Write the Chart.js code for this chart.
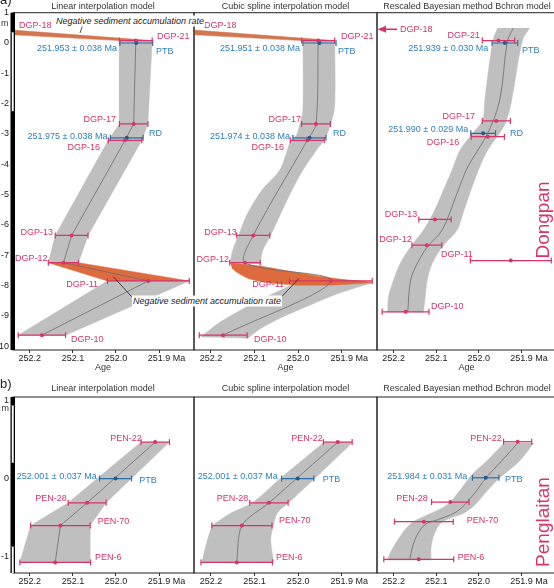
<!DOCTYPE html>
<html>
<head>
<meta charset="utf-8">
<title>Age-depth models, Dongpan and Penglaitan</title>
<script src="https://cdn.jsdelivr.net/npm/chart.js@4.4.1/dist/chart.umd.min.js"></script>
<style>
  html, body { margin: 0; padding: 0; background: #fff; overflow: hidden; }
  body { position: relative; width: 554px; height: 588px; font-family: "Liberation Sans", Arial, sans-serif; }
  canvas { position: absolute; left: 0; top: 0; }
  #overlay { position: absolute; left: 0; top: 0; }
  .t { position: absolute; white-space: nowrap; font-size: 9px; line-height: 11px; }
</style>
</head>
<body>
<canvas id="aLinear" width="562" height="588"></canvas>
<canvas id="aSpline" width="562" height="588"></canvas>
<canvas id="aBchron" width="562" height="588"></canvas>
<canvas id="bLinear" width="562" height="588"></canvas>
<canvas id="bSpline" width="562" height="588"></canvas>
<canvas id="bBchron" width="562" height="588"></canvas>
<svg id="overlay" width="554" height="588">
  <g stroke="#222" stroke-width="0.8">
    <line x1="83" y1="24" x2="80" y2="33"/>
    <line x1="131.7" y1="296.7" x2="113.3" y2="276.7"/>
    <line x1="281.7" y1="296.7" x2="299" y2="278.3"/>
  </g>
  <line x1="384" y1="29.3" x2="397" y2="29.3" stroke="#d8336b" stroke-width="1.6"/>
  <polygon points="377.5,29.3 386,25.8 386,32.8" fill="#d8336b"/>
</svg>
<script>
Chart.defaults.font.family = '"Liberation Sans", Arial, sans-serif';
Chart.defaults.font.size = 9;
Chart.defaults.color = '#222';

// ---------- data (age in Ma, depth in m) ----------
const ageTicks = [252.2, 252.1, 252.0, 251.9];
const depthTicksA = [1, 0, -1, -2, -3, -4, -5, -6, -7, -8, -9, -10];
const depthTicksB = [1, 0, -1];

// Dongpan ash beds
const dgpNames = ['DGP-21', 'DGP-17', 'DGP-16', 'DGP-13', 'DGP-12', 'DGP-11', 'DGP-10'];
const dgpAge = [251.954, 251.959, 251.979, 252.103, 252.122, 251.925, 252.172];
const dgpErr = [0.038, 0.033, 0.039, 0.038, 0.035, 0.095, 0.055];
const dgpDepth = [0.08, -2.67, -3.21, -6.35, -7.25, -7.85, -9.64];
const dgpDepthBchron = [0.08, -2.57, -3.09, -5.82, -6.67, -7.18, -8.87];
// DGP-18 plots off the left edge
const dgp18Age = 252.38, dgp18Err = 0.11, dgp18Depth = 0.46;

// PTB and RD model ages
const eventNames = ['PTB', 'RD'];
const eventAgeLinear = [251.953, 251.975];
const eventAgeSpline = [251.951, 251.974];
const eventAgeBchron = [251.939, 251.990];
const eventErrLinear = [0.038, 0.038];
const eventErrSpline = [0.038, 0.038];
const eventErrBchron = [0.030, 0.029];
const eventDepth = [0, -3.13];
const eventDepthBchron = [0, -2.98];

// cubic spline envelope, Dongpan
const dgpSplineUpperLeft = [[251.989, 0.066], [251.989, -2.21], [251.996, -2.67], [252.004, -3.04], [252.017, -3.23],
  [252.042, -4.19], [252.083, -4.85], [252.118, -5.68], [252.138, -6.40], [252.150, -6.83], [252.156, -7.23]];
const dgpSplineUpperRight = [[252.088, -7.29], [252.081, -6.83], [252.065, -6.40], [252.031, -5.35], [251.996, -4.36],
  [251.955, -3.47], [251.941, -3.23], [251.925, -2.67], [251.916, -2.05], [251.916, 0.066]];
const dgpSplineLowerLeft = [[252.003, -7.92], [252.031, -8.09], [252.111, -8.65], [252.179, -9.21], [252.223, -9.70]];
const dgpSplineLowerRight = [[252.115, -9.74], [252.088, -9.44], [252.042, -9.08], [251.973, -8.65], [251.905, -8.25], [251.831, -7.92]];
const dgpSplineReversal = [[252.155, -7.26], [252.088, -7.36], [251.996, -7.59], [251.905, -7.79], [251.831, -7.89],
  [251.831, -7.91], [251.927, -7.99], [252.003, -7.99], [252.065, -7.92], [252.111, -7.79], [252.138, -7.59], [252.152, -7.43]];

// Bchron envelope and median, Dongpan
const dgpBchronLeft = [[251.956, 0.495], [251.967, 0.076], [251.986, -1.88], [251.991, -2.54], [252.014, -2.97],
  [252.044, -3.53], [252.060, -4.09], [252.086, -4.95], [252.107, -5.61], [252.130, -6.17], [252.160, -6.73],
  [252.184, -7.26], [252.200, -7.82], [252.212, -8.38], [252.214, -8.88]];
const dgpBchronRight = [[252.130, -8.88], [252.126, -8.38], [252.121, -7.82], [252.109, -7.26], [252.086, -6.73],
  [252.051, -6.17], [252.037, -5.61], [252.021, -4.95], [251.998, -4.09], [251.979, -3.53], [251.951, -2.97],
  [251.935, -2.54], [251.923, -1.88], [251.898, 0.076], [251.881, 0.495]];
const dgpBchronMedian = [[251.919, 0.495], [251.933, 0.066], [251.951, -1.88], [251.979, -2.97], [252.026, -4.09],
  [252.051, -4.95], [252.086, -6.17], [252.121, -6.73], [252.144, -7.26], [252.160, -7.82], [252.167, -8.88]];

// Penglaitan ash beds
const penNames = ['PEN-22', 'PEN-28', 'PEN-70', 'PEN-6'];
const penAge = [251.909, 252.067, 252.129, 252.141];
const penErr = [0.033, 0.044, 0.069, 0.082];
const penDepth = [0.465, -0.31, -0.60, -1.07];
const penDepthBchron = [0.47, -0.30, -0.55, -1.03];
const penPtbAge = [252.001, 252.001, 251.984];   // linear, spline, Bchron
const penPtbErr = [0.037, 0.037, 0.031];
const penPtbDepth = [0, 0, 0.01];

const penSplineLeft = [[251.940, 0.465], [252.041, 0.0], [252.105, -0.31], [252.154, -0.44], [252.185, -0.55],
  [252.196, -0.60], [252.208, -0.78], [252.221, -1.07]];
const penSplineRight = [[252.056, -1.07], [252.063, -0.78], [252.057, -0.60], [252.048, -0.44], [252.022, -0.31],
  [251.962, 0.0], [251.874, 0.465]];

const penBchronLeft = [[251.940, 0.457], [251.982, 0.222], [252.016, 0.051], [252.043, -0.141], [252.074, -0.333],
  [252.120, -0.462], [252.158, -0.568], [252.185, -0.74], [252.204, -0.91], [252.215, -1.04]];
const penBchronRight = [[252.112, -1.04], [252.112, -0.87], [252.104, -0.70], [252.089, -0.568], [252.066, -0.504],
  [252.035, -0.44], [252.009, -0.333], [251.978, -0.141], [251.951, 0.009], [251.905, 0.222], [251.871, 0.457]];
const penBchronMedian = [[251.907, 0.465], [251.947, 0.222], [251.983, 0.009], [252.016, -0.227], [252.051, -0.419],
  [252.097, -0.526], [252.127, -0.59], [252.150, -0.78], [252.162, -1.02]];

// lithology column: [top, bottom, kind]
const dgpColumn = [[1.0, 0.35, 'b'], [0.35, -2.25, 'w'], [-2.25, -10.13, 'b']];
const penColumn = [[1.04, 0.93, 'b'], [0.93, 0.2, 'w'], [0.2, -0.87, 'b'], [-0.87, -1.205, 'w']];

// ---------- look ----------
const PINK = '#d8336b', BLUE = '#2a6fa8', BLUE_TEXT = '#2f80bb', BLUE_DOT = '#1f5a8e';
const GRAY = '#bfbfbf', ORANGE = '#de6b3d', ORANGE_TOP = '#d3764f', MEDIAN = '#6b6b6b';

const W = 562, H = 588;
const ageMin = 251.819, ageMax = 252.239;
const colX = [[13, 194], [194, 377], [377, 556]];
const rows = [
  { top: 12.7, bottom: 350, min: -10.13, max: 1, ticks: depthTicksA },
  { top: 397, bottom: 573, min: -1.205, max: 1.04, ticks: depthTicksB }
];

const pts = pairs => pairs.map(([x, y]) => ({ x, y }));

function envelope(ages, errs, depths, idx) {
  const left = idx.map(i => [ages[i] + errs[i], depths[i]]);
  const right = idx.slice().reverse().map(i => [ages[i] - errs[i], depths[i]]);
  return left.concat(right);
}

function shapeSet(pairs, color, order, tension = 0) {
  return { data: pts(pairs), showLine: true, fill: 'shape', backgroundColor: color,
    borderColor: color, borderWidth: 0.5, pointRadius: 0, tension, order };
}

// repeat the bottom corners so the spline keeps them sharp
function smoothSet(left, right, color, order, tension) {
  return shapeSet([...left, left[left.length - 1], right[0], ...right], color, order, tension);
}

function median(pairs, tension = 0) {
  return { data: pts(pairs), showLine: true, borderColor: MEDIAN, borderWidth: 0.8,
    pointRadius: 0, tension, order: 3 };
}

function bars(ages, errs, depths, color) {
  return ages.map((a, i) => ({
    data: [{ x: a + errs[i], y: depths[i] }, { x: a - errs[i], y: depths[i] }],
    showLine: true, borderColor: color, borderWidth: 1.2,
    pointStyle: 'line', pointRotation: 90, pointRadius: 3,
    pointBorderColor: color, pointBorderWidth: 1.2, order: 2
  }));
}

function dots(ages, depths, color) {
  return { data: ages.map((a, i) => ({ x: a, y: depths[i] })), pointRadius: 2,
    pointBackgroundColor: color, pointBorderWidth: 0, order: 1 };
}

const frame = {
  id: 'frame',
  afterDatasetsDraw(chart) {
    const { ctx, chartArea: a } = chart;
    ctx.save();
    ctx.strokeStyle = '#222';
    ctx.lineWidth = 1;
    ctx.strokeRect(a.left, a.top, a.right - a.left, a.bottom - a.top);
    ctx.restore();
  }
};

function lithology(units) {
  return {
    id: 'lithology',
    afterDraw(chart) {
      const { ctx, chartArea: a, scales: { y } } = chart;
      ctx.save();
      for (const [top, bottom, kind] of units) {
        const y0 = y.getPixelForValue(top), y1 = y.getPixelForValue(bottom);
        ctx.fillStyle = '#000';
        ctx.fillRect(a.left - 2.5, y0, 4.5, y1 - y0);
        if (kind === 'w') {
          ctx.fillStyle = '#fff';
          ctx.fillRect(a.left - 1.2, y0, 1.9, y1 - y0);
        }
      }
      ctx.restore();
    }
  };
}

function panel(id, col, row, datasets, column) {
  const [x0, x1] = colX[col];
  const r = rows[row];
  const axisH = 13;
  const first = col === 0;
  const plugins = [frame];
  if (column) plugins.push(lithology(column));
  return new Chart(document.getElementById(id), {
    type: 'scatter',
    data: { datasets },
    options: {
      responsive: false,
      animation: false,
      events: [],
      layout: { padding: { left: first ? 0 : x0, right: W - x1, top: r.top, bottom: H - r.bottom - axisH } },
      plugins: { legend: { display: false }, tooltip: { enabled: false } },
      scales: {
        x: {
          type: 'linear', reverse: true, min: ageMin, max: ageMax,
          afterBuildTicks: s => { s.ticks = ageTicks.map(v => ({ value: v })); },
          afterFit: s => { s.height = axisH; },
          grid: { drawOnChartArea: false, tickLength: 3, color: '#333' },
          border: { display: false },
          ticks: {
            padding: 0, maxRotation: 0, autoSkip: false, color: '#222',
            callback: v => (v === 251.9 ? '      251.9 Ma' : v.toFixed(1))
          }
        },
        y: {
          type: 'linear', min: r.min, max: r.max, display: first,
          afterBuildTicks: s => { s.ticks = r.ticks.map(v => ({ value: v })); },
          afterFit: s => { s.width = first ? x0 : 0; },
          grid: { display: false, drawTicks: false },
          border: { display: false },
          ticks: { padding: 4, color: '#222' }
        }
      }
    },
    plugins
  });
}

const topReversal = [
  [dgp18Age + dgp18Err, dgp18Depth], [dgpAge[0] + dgpErr[0], dgpDepth[0]],
  [dgpAge[0] - dgpErr[0], dgpDepth[0]], [dgp18Age - dgp18Err, dgp18Depth]
];
const dgpLine = dgpAge.map((a, i) => [a, dgpDepth[i]]);
const penLine = penAge.map((a, i) => [a, penDepth[i]]);

// (a) Dongpan
panel('aLinear', 0, 0, [
  shapeSet(envelope(dgpAge, dgpErr, dgpDepth, [0, 1, 2, 3, 4]), GRAY, 6),
  shapeSet(envelope(dgpAge, dgpErr, dgpDepth, [5, 6]), GRAY, 6),
  shapeSet(envelope(dgpAge, dgpErr, dgpDepth, [4, 5]), ORANGE, 5),
  shapeSet(topReversal, ORANGE_TOP, 5),
  median(dgpLine),
  ...bars(dgpAge, dgpErr, dgpDepth, PINK),
  ...bars(eventAgeLinear, eventErrLinear, eventDepth, BLUE),
  dots(dgpAge, dgpDepth, PINK),
  dots(eventAgeLinear, eventDepth, BLUE_DOT)
], dgpColumn);

panel('aSpline', 1, 0, [
  smoothSet(dgpSplineUpperLeft, dgpSplineUpperRight, GRAY, 6, 0.3),
  smoothSet(dgpSplineLowerLeft, dgpSplineLowerRight, GRAY, 6, 0.3),
  shapeSet(dgpSplineReversal, ORANGE, 5, 0.2),
  shapeSet(topReversal, ORANGE_TOP, 5),
  median(dgpLine, 0.3),
  ...bars(dgpAge, dgpErr, dgpDepth, PINK),
  ...bars(eventAgeSpline, eventErrSpline, eventDepth, BLUE),
  dots(dgpAge, dgpDepth, PINK),
  dots(eventAgeSpline, eventDepth, BLUE_DOT)
]);

panel('aBchron', 2, 0, [
  smoothSet(dgpBchronLeft, dgpBchronRight, GRAY, 6, 0.35),
  median(dgpBchronMedian, 0.35),
  ...bars(dgpAge, dgpErr, dgpDepthBchron, PINK),
  ...bars(eventAgeBchron, eventErrBchron, eventDepthBchron, BLUE),
  dots(dgpAge, dgpDepthBchron, PINK),
  dots(eventAgeBchron, eventDepthBchron, BLUE_DOT)
]);

// (b) Penglaitan
panel('bLinear', 0, 1, [
  shapeSet(envelope(penAge, penErr, penDepth, [0, 1, 2, 3]), GRAY, 6),
  median(penLine),
  ...bars(penAge, penErr, penDepth, PINK),
  ...bars([penPtbAge[0]], [penPtbErr[0]], [penPtbDepth[0]], BLUE),
  dots(penAge, penDepth, PINK),
  dots([penPtbAge[0]], [penPtbDepth[0]], BLUE_DOT)
], penColumn);

panel('bSpline', 1, 1, [
  smoothSet(penSplineLeft, penSplineRight, GRAY, 6, 0.3),
  median(penLine, 0.3),
  ...bars(penAge, penErr, penDepth, PINK),
  ...bars([penPtbAge[1]], [penPtbErr[1]], [penPtbDepth[1]], BLUE),
  dots(penAge, penDepth, PINK),
  dots([penPtbAge[1]], [penPtbDepth[1]], BLUE_DOT)
]);

panel('bBchron', 2, 1, [
  smoothSet(penBchronLeft, penBchronRight, GRAY, 6, 0.35),
  median(penBchronMedian, 0.35),
  ...bars(penAge, penErr, penDepthBchron, PINK),
  ...bars([penPtbAge[2]], [penPtbErr[2]], [penPtbDepth[2]], BLUE),
  dots(penAge, penDepthBchron, PINK),
  dots([penPtbAge[2]], [penPtbDepth[2]], BLUE_DOT)
]);

// ---------- text ----------
function put(text, x, y, opt = {}) {
  const d = document.createElement('div');
  d.className = 't';
  d.textContent = text;
  d.style.left = x + 'px';
  d.style.top = y + 'px';
  const tx = { l: '0', r: '-100%', c: '-50%' }[opt.align || 'l'];
  d.style.transform = `translate(${tx},-50%)` + (opt.rotate ? ` rotate(${opt.rotate}deg)` : '');
  d.style.color = opt.color || '#222';
  if (opt.size) { d.style.fontSize = opt.size + 'px'; d.style.lineHeight = Math.round(opt.size * 1.15) + 'px'; }
  if (opt.italic) d.style.fontStyle = 'italic';
  if (opt.bg) { d.style.background = '#fff'; d.style.padding = '0 1px'; }
  document.body.appendChild(d);
}

const P = PINK, B = BLUE_TEXT, K = '#333';
const notes = [
  ['Linear interpolation model', 103, 5.5, K, 'c'], ['Cubic spline interpolation model', 285.5, 5.5, K, 'c'],
  ['Rescaled Bayesian method Bchron model', 467, 5.5, K, 'c'],
  ['Age', 103, 367, K, 'c'], ['Age', 285.5, 367, K, 'c'], ['Age', 466.5, 367, K, 'c'],
  ['Linear interpolation model', 103, 388, K, 'c'], ['Cubic spline interpolation model', 285.5, 388, K, 'c'],
  ['Rescaled Bayesian method Bchron model', 467, 388, K, 'c'],
  ['m', 8.5, 23.3, K, 'r'], ['m', 9, 408, K, 'r'],
  // a) linear
  ['DGP-18', 19, 25, P, 'l'], ['DGP-21', 157, 35.7, P, 'l'], ['251.953 ± 0.038 Ma', 117, 47.7, B, 'r'],
  ['PTB', 156, 50.7, B, 'l'], ['DGP-17', 116, 119, P, 'r'], ['RD', 149, 133, B, 'l'],
  ['251.975 ± 0.038 Ma', 107.5, 136, B, 'r'], ['DGP-16', 100, 146.7, P, 'r'], ['DGP-13', 53, 231.7, P, 'r'],
  ['DGP-12', 47.5, 257.7, P, 'r'], ['DGP-11', 98, 284, P, 'r'], ['DGP-10', 71, 339.3, P, 'l'],
  // a) spline
  ['DGP-18', 204, 25, P, 'l'], ['DGP-21', 341, 35.7, P, 'l'], ['251.951 ± 0.038 Ma', 300, 47.7, B, 'r'],
  ['PTB', 338, 50.7, B, 'l'], ['DGP-17', 301, 119, P, 'r'], ['RD', 333, 133.3, B, 'l'],
  ['251.974 ± 0.038 Ma', 290, 136, B, 'r'], ['DGP-16', 284, 146.7, P, 'r'], ['DGP-13', 236.7, 231.7, P, 'r'],
  ['DGP-12', 229, 259.3, P, 'r'], ['DGP-11', 284, 284, P, 'r'], ['DGP-10', 254, 339.3, P, 'l'],
  // a) Bchron
  ['DGP-18', 400, 29.3, P, 'l'], ['DGP-21', 480, 35, P, 'r'], ['251.939 ± 0.030 Ma', 488.3, 47.7, B, 'r'],
  ['PTB', 522, 50, B, 'l'], ['DGP-17', 475, 115.7, P, 'r'], ['251.990 ± 0.029 Ma', 468.3, 129.3, B, 'r'],
  ['RD', 510, 133.3, B, 'l'], ['DGP-16', 459.3, 141.7, P, 'r'], ['DGP-13', 417.3, 214.3, P, 'r'],
  ['DGP-12', 411.7, 239, P, 'r'], ['DGP-11', 441, 254, P, 'l'], ['DGP-10', 431, 305.7, P, 'l'],
  // b) linear
  ['PEN-22', 141.7, 438.3, P, 'r'], ['252.001 ± 0.037 Ma', 96.7, 476, B, 'r'], ['PTB', 139.3, 480, B, 'l'],
  ['PEN-28', 66.7, 498.3, P, 'r'], ['PEN-70', 97.7, 520.7, P, 'l'], ['PEN-6', 95, 557.3, P, 'l'],
  // b) spline
  ['PEN-22', 322.7, 438.3, P, 'r'], ['252.001 ± 0.037 Ma', 277.7, 476, B, 'r'], ['PTB', 322.7, 479.3, B, 'l'],
  ['PEN-28', 248.3, 498.3, P, 'r'], ['PEN-70', 279, 520, P, 'l'], ['PEN-6', 276, 557.3, P, 'l'],
  // b) Bchron
  ['PEN-22', 501.7, 437.7, P, 'r'], ['251.984 ± 0.031 Ma', 467.3, 476, B, 'r'], ['PTB', 505, 479.3, B, 'l'],
  ['PEN-28', 427.7, 498.3, P, 'r'], ['PEN-70', 466.7, 520, P, 'l'], ['PEN-6', 457.7, 557.3, P, 'l']
];
notes.forEach(([t, x, y, c, a]) => put(t, x, y, { color: c, align: a }));

put('Negative sediment accumulation rate', 55, 20.5, { italic: true, bg: true });
put('Negative sediment accumulation rate', 132, 300.5, { italic: true, bg: true });
put('a)', 0, -1, { size: 13 });
put('b)', 0, 383, { size: 13 });
put('Dongpan', 543, 220, { color: PINK, size: 19, align: 'c', rotate: -90 });
put('Penglaitan', 543, 522, { color: PINK, size: 19, align: 'c', rotate: -90 });
</script>
</body>
</html>
